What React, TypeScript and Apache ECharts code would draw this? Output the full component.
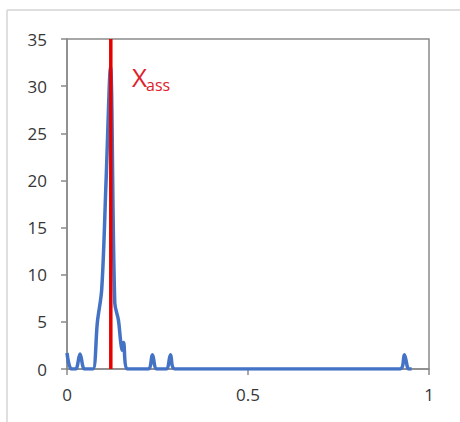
import React, { useEffect, useRef } from "react";
import * as echarts from "echarts";

const curveX = [0, 0.012, 0.024, 0.036, 0.048, 0.06, 0.072, 0.084, 0.096, 0.108, 0.12, 0.132, 0.142, 0.148, 0.152, 0.156, 0.168, 0.224, 0.236, 0.248, 0.274, 0.286, 0.298, 0.92, 0.932, 0.944, 0.952];
const curveY = [1.7, 0, 0, 1.6, 0, 0, 0, 5, 8.5, 20, 32, 7, 5.2, 3, 2, 2.8, 0, 0, 1.5, 0, 0, 1.5, 0, 0, 1.5, 0, 0];
const xassValue = 0.121;
const yRange = [0, 35];
const xTicks = [0, 0.5, 1];

export default function App() {
  const ref = useRef<HTMLDivElement>(null);
  useEffect(() => {
    if (!ref.current) return;
    const chart = echarts.init(ref.current, null, { renderer: "svg" });
    const font = "Open Sans";
    chart.setOption({
      animation: false,
      backgroundColor: "#ffffff",
      grid: {
        left: 67,
        top: 39,
        right: 31,
        bottom: 53,
        show: true,
        borderColor: "#8a8a8a",
        borderWidth: 1.5,
      },
      xAxis: {
        type: "value",
        min: xTicks[0],
        max: xTicks[xTicks.length - 1],
        interval: 0.5,
        splitLine: { show: false },
        axisLine: { show: true, lineStyle: { color: "#8a8a8a", width: 1.5 } },
        axisTick: { show: true, length: 6, lineStyle: { color: "#8a8a8a", width: 1.5 } },
        axisLabel: { color: "#363636", fontSize: 17, fontFamily: font, margin: 17 },
      },
      yAxis: {
        type: "value",
        min: yRange[0],
        max: yRange[1],
        interval: 5,
        splitLine: { show: false },
        axisLine: { show: true, lineStyle: { color: "#8a8a8a", width: 1.5 } },
        axisTick: { show: true, length: 6, lineStyle: { color: "#8a8a8a", width: 1.5 } },
        axisLabel: { color: "#363636", fontSize: 17, fontFamily: font, margin: 20 },
      },
      series: [
        {
          type: "line",
          data: curveX.map((x, i) => [x, curveY[i]]),
          smooth: 0.35,
          showSymbol: false,
          lineStyle: { color: "#4472C4", width: 3.5 },
          z: 2,
        },
        {
          type: "line",
          data: [
            [xassValue, yRange[0]],
            [xassValue, yRange[1]],
          ],
          showSymbol: false,
          lineStyle: { color: "#e60000", width: 3.5 },
          z: 3,
        },
      ],
      graphic: [
        { type: "line", shape: { x1: 7, y1: 10, x2: 460, y2: 10 }, style: { stroke: "#d4d4d4", lineWidth: 1.5 } },
        { type: "line", shape: { x1: 7, y1: 10, x2: 7, y2: 422 }, style: { stroke: "#d4d4d4", lineWidth: 1.5 } },
        {
          type: "text",
          x: 132,
          y: 77,
          style: {
            text: "X",
            fontSize: 26,
            fontFamily: font,
            fill: "#e0202a",
            verticalAlign: "middle",
          },
        },
        {
          type: "text",
          x: 146,
          y: 85,
          style: {
            text: "ass",
            fontSize: 16,
            fontFamily: font,
            fill: "#e0202a",
            verticalAlign: "middle",
          },
        },
      ],
    });
    return () => chart.dispose();
  }, []);
  return <div ref={ref} style={{ position: "fixed", left: 0, top: 0, width: 460, height: 422 }} />;
}
